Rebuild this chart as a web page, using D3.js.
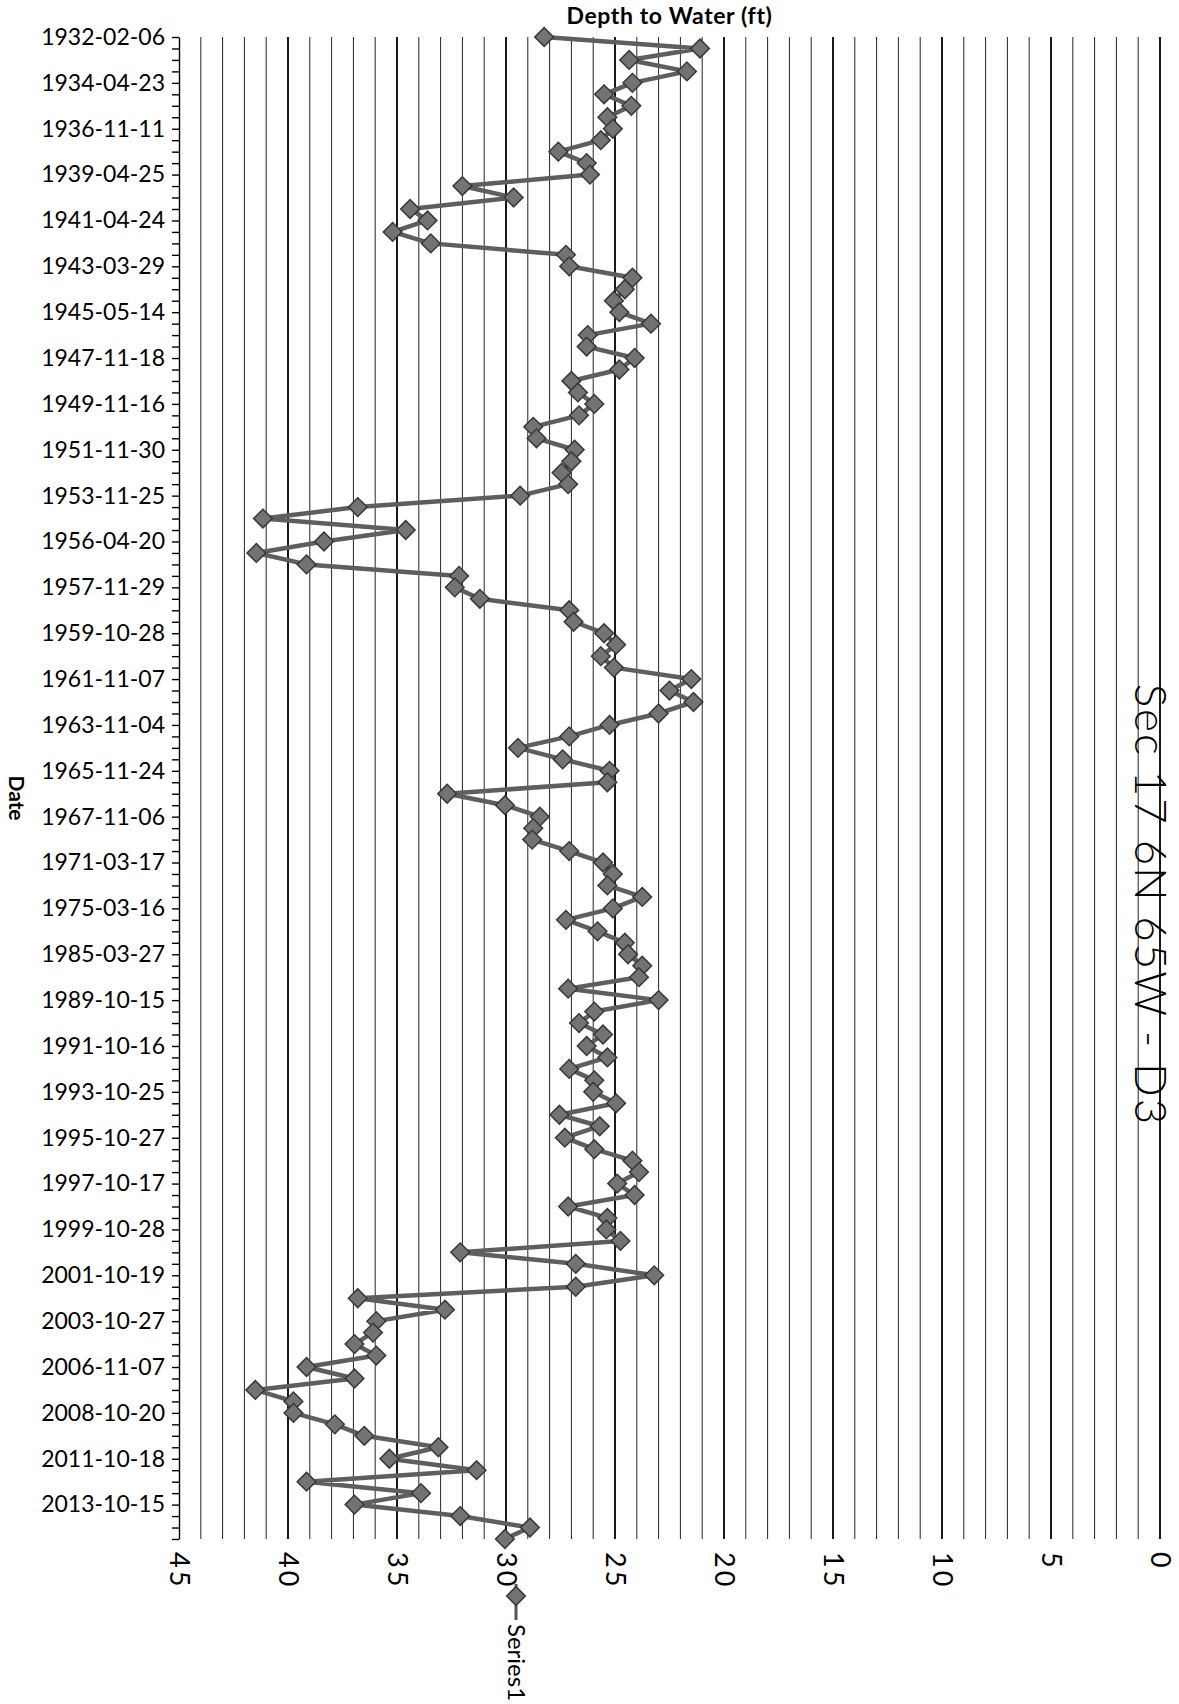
<!DOCTYPE html>
<html>
<head>
<meta charset="utf-8">
<script src="https://cdn.jsdelivr.net/npm/d3@7"></script>
<style>
  body { margin: 0; background: #fff; }
  text { font-family: Lato, "Open Sans", sans-serif; fill: #000; }
</style>
</head>
<body>
<div id="chart"></div>
<script>
// date labels, shown on every 4th sample
let dateLabels = ["1932-02-06", "1934-04-23", "1936-11-11", "1939-04-25", "1941-04-24",
  "1943-03-29", "1945-05-14", "1947-11-18", "1949-11-16", "1951-11-30", "1953-11-25",
  "1956-04-20", "1957-11-29", "1959-10-28", "1961-11-07", "1963-11-04", "1965-11-24",
  "1967-11-06", "1971-03-17", "1975-03-16", "1985-03-27", "1989-10-15", "1991-10-16",
  "1993-10-25", "1995-10-27", "1997-10-17", "1999-10-28", "2001-10-19", "2003-10-27",
  "2006-11-07", "2008-10-20", "2011-10-18", "2013-10-15"];
let labelEvery = 4;

// Depth to water (ft), one value per sample
let depth = [
  28.25, 21.1, 24.35, 21.7, 24.2, 25.5, 24.25, 25.35, 25.1, 25.65,
  27.6, 26.3, 26.15, 32.0, 29.65, 34.4, 33.6, 35.2, 33.45, 27.25,
  27.1, 24.2, 24.55, 25.05, 24.8, 23.35, 26.25, 26.3, 24.1, 24.8,
  27.0, 26.7, 25.95, 26.65, 28.75, 28.6, 26.85, 27.0, 27.45, 27.15,
  29.35, 36.8, 41.15, 34.6, 38.35, 41.45, 39.15, 32.15, 32.35, 31.2,
  27.1, 26.9, 25.5, 24.95, 25.65, 25.05, 21.5, 22.5, 21.4, 23.0,
  25.25, 27.1, 29.45, 27.4, 25.25, 25.35, 32.7, 30.05, 28.45, 28.75,
  28.8, 27.1, 25.55, 25.1, 25.35, 23.75, 25.1, 27.25, 25.8, 24.55,
  24.4, 23.75, 23.9, 27.15, 23.0, 25.95, 26.65, 25.55, 26.3, 25.35,
  27.1, 25.95, 26.0, 24.95, 27.55, 25.7, 27.3, 25.95, 24.2, 23.9,
  24.9, 24.1, 27.15, 25.35, 25.4, 24.75, 32.1, 26.8, 23.2, 26.8,
  36.8, 32.8, 35.95, 36.1, 36.95, 35.95, 39.15, 36.95, 41.5, 39.75,
  39.75, 37.85, 36.5, 33.1, 35.35, 31.35, 39.15, 33.9, 36.95, 32.1,
  28.9, 30.05
];

let depthTicks = [45, 40, 35, 30, 25, 20, 15, 10, 5, 0];

let width = 1179;
let height = 1704;
let margin = {top: 37, right: 19, bottom: 165, left: 179};
let plot_bottom = height - margin.bottom;

let svg = d3.select("#chart")
            .append("svg")
            .attr("width", width)
            .attr("height", height);

let x = d3.scaleLinear()
          .domain([45, 0])
          .range([margin.left, width - margin.right]);

let y = d3.scalePoint()
          .domain(d3.range(depth.length))
          .range([margin.top, plot_bottom]);

// vertical gridlines, one per foot
svg.append("g")
   .selectAll("line")
   .data(x.ticks(45).filter(function(d) { return d < 45; }))
   .enter()
   .append("line")
   .attr("x1", function(d) { return x(d); })
   .attr("x2", function(d) { return x(d); })
   .attr("y1", margin.top)
   .attr("y2", plot_bottom)
   .style("stroke", function(d) { return d % 5 === 0 ? "#000" : "#262626"; })
   .style("stroke-width", function(d) { return d % 5 === 0 ? 1.8 : 1; });

// date axis
let yAxis = svg.append("g")
   .attr("transform", "translate(" + margin.left + ",0)")
   .call(d3.axisLeft(y)
           .tickSize(7)
           .tickSizeOuter(0)
           .tickPadding(7)
           .tickFormat(function(i) { return i % labelEvery === 0 ? dateLabels[i / labelEvery] : ""; }));
yAxis.selectAll("line, path").style("stroke", "#000").style("stroke-width", 1.4);
yAxis.selectAll("text")
     .style("font-size", "23px")
     .style("font-family", "Lato, 'Open Sans', sans-serif");

// depth axis labels, turned like the scan
let xAxis = svg.append("g")
   .attr("transform", "translate(0," + plot_bottom + ")")
   .call(d3.axisBottom(x).tickValues(depthTicks).tickSize(0));
xAxis.select(".domain").remove();
xAxis.selectAll("text")
     .attr("transform", "rotate(90)")
     .attr("x", 13)
     .attr("y", 0)
     .attr("dy", "0.35em")
     .attr("text-anchor", "start")
     .style("font-size", "27px")
     .style("letter-spacing", "3px")
     .style("font-family", "Lato, 'Open Sans', sans-serif");

// series
let line = d3.line()
             .x(function(d) { return x(d); })
             .y(function(d, i) { return y(i); });

svg.append("path")
   .datum(depth)
   .attr("d", line)
   .style("fill", "none")
   .style("stroke", "#5e5e5e")
   .style("stroke-width", 4.5)
   .style("stroke-linejoin", "round");

let diamond = d3.symbol().type(d3.symbolSquare).size(175);

svg.append("g")
   .selectAll("path")
   .data(depth)
   .enter()
   .append("path")
   .attr("d", diamond)
   .attr("transform", function(d, i) { return "translate(" + x(d) + "," + y(i) + ") rotate(45)"; })
   .style("fill", "#737373")
   .style("stroke", "#383838")
   .style("stroke-width", 1.5);

// titles
svg.append("text")
   .attr("x", (x(45) + x(0)) / 2)
   .attr("y", 24)
   .attr("text-anchor", "middle")
   .style("font-size", "23px")
   .style("letter-spacing", "0.6px")
   .style("font-weight", "bold")
   .text("Depth to Water (ft)");

svg.append("text")
   .attr("transform", "translate(16,798) rotate(90)")
   .attr("text-anchor", "middle")
   .attr("dy", "0.35em")
   .style("font-size", "21px")
   .style("font-weight", "bold")
   .text("Date");

// chart title sits on the 0 ft gridline, kept just inside the right edge
svg.append("text")
   .attr("transform", "translate(1135,905) rotate(90)")
   .attr("text-anchor", "middle")
   .style("font-size", "44px")
   .style("letter-spacing", "2px")
   .style("font-weight", 300)
   .text("Sec 17 6N 65W - D3");

// legend
let legend = svg.append("g").attr("transform", "translate(516,0)");
legend.append("line")
      .attr("x1", 0).attr("x2", 0)
      .attr("y1", 1584).attr("y2", 1620)
      .style("stroke", "#555")
      .style("stroke-width", 3);
legend.append("path")
      .attr("d", diamond)
      .attr("transform", "translate(0,1596) rotate(45)")
      .style("fill", "#737373")
      .style("stroke", "#383838")
      .style("stroke-width", 1.5);
legend.append("text")
      .attr("transform", "translate(0,1624) rotate(90)")
      .attr("dy", "0.35em")
      .style("font-size", "24px")
      .text("Series1");
</script>
</body>
</html>
